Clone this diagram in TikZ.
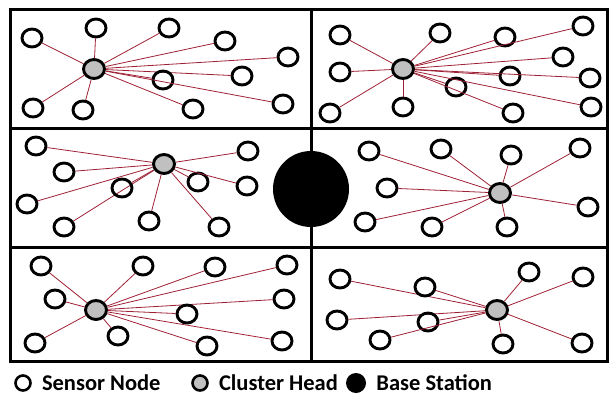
\documentclass[tikz,border=0pt]{standalone}
\usepackage{fontspec}
\setmainfont{Carlito}
\usetikzlibrary{shapes.geometric, positioning}
\definecolor{linkred}{RGB}{158,32,52}
\definecolor{headgray}{RGB}{192,192,192}
\tikzset{
  sensor/.style={draw, ellipse, line width=2.9pt, minimum width=20pt, minimum height=18pt, inner sep=0pt},
  head/.style={sensor, fill=headgray, minimum width=21pt, minimum height=19pt},
  station/.style={circle, fill=black, minimum size=76pt, inner sep=0pt},
  link/.style={draw=linkred, line width=0.8pt},
  legend/.style={font=\bfseries\fontsize{22.5}{22.5}\selectfont, inner sep=0pt},
}
\begin{document}
\begin{tikzpicture}[x=1pt, y=-1pt]
    \useasboundingbox (0,0) rectangle (609,396);
    % field divided into six clusters
    \draw[line width=3pt] (10,10) rectangle (607,361);
    \draw[line width=3pt] (311,10) -- (311,361);
    \draw[line width=3pt] (10,128) -- (607,128);
    \draw[line width=3pt] (10,247) -- (607,247);

    % cluster 1
    \node[head] at (94,69) (h1) {};
    \foreach \x/\y [count=\i] in {32/38, 96/28, 169/28, 225/41, 288/57, 242/76, 163/80, 33/108, 83/110, 193/109, 283/104} {
        \node[sensor] at (\x,\y) (a\i) {};
        \draw[link] (h1) -- (a\i);
    }

    % cluster 2
    \node[head] at (403,69) (h2) {};
    \foreach \x/\y [count=\i] in {340/35, 340/72, 330/113, 403/107, 440/33, 505/37, 583/26, 563/57, 510/76, 456/87, 590/78, 513/113, 591/107} {
        \node[sensor] at (\x,\y) (b\i) {};
        \draw[link] (h2) -- (b\i);
    }

    % cluster 3
    \node[head] at (164,164) (h3) {};
    \foreach \x/\y [count=\i] in {36/146, 64/172, 27/204, 64/227, 122/188, 149/221, 198/182, 248/151, 247/186, 219/227} {
        \node[sensor] at (\x,\y) (c\i) {};
        \draw[link] (h3) -- (c\i);
    }

    % cluster 4
    \node[head] at (500,193) (h4) {};
    \foreach \x/\y [count=\i] in {369/151, 441/149, 511/155, 580/148, 387/188, 588/207, 365/222, 432/227, 507/227} {
        \node[sensor] at (\x,\y) (d\i) {};
        \draw[link] (h4) -- (d\i);
    }

    % cluster 5
    \node[head] at (96,310) (h5) {};
    \foreach \x/\y [count=\i] in {41/266, 143/266, 215/267, 287/265, 55/299, 284/299, 187/314, 118/336, 35/343, 207/346, 282/341} {
        \node[sensor] at (\x,\y) (e\i) {};
        \draw[link] (h5) -- (e\i);
    }

    % cluster 6
    \node[head] at (497,310) (h6) {};
    \foreach \x/\y [count=\i] in {340/279, 425/287, 529/272, 583/277, 337/320, 428/322, 380/340, 503/344, 582/343} {
        \node[sensor] at (\x,\y) (f\i) {};
        \draw[link] (h6) -- (f\i);
    }

    % base station in the middle
    \node[station] at (311,189) (bs) {};

    % legend
    \node[sensor, minimum width=15pt, minimum height=15pt, line width=2.6pt] at (23,383) (lsensor) {};
    \node[legend, right=10pt of lsensor] (lsensortext) {Sensor Node};
    \node[head, minimum width=15pt, minimum height=15pt, line width=2.6pt] at (200,383) (lhead) {};
    \node[legend, right=10pt of lhead] (lheadtext) {Cluster Head};
    \node[station, minimum size=20pt] at (356,383) (lstation) {};
    \node[legend, right=10pt of lstation] (lstationtext) {Base Station};
\end{tikzpicture}
\end{document}
